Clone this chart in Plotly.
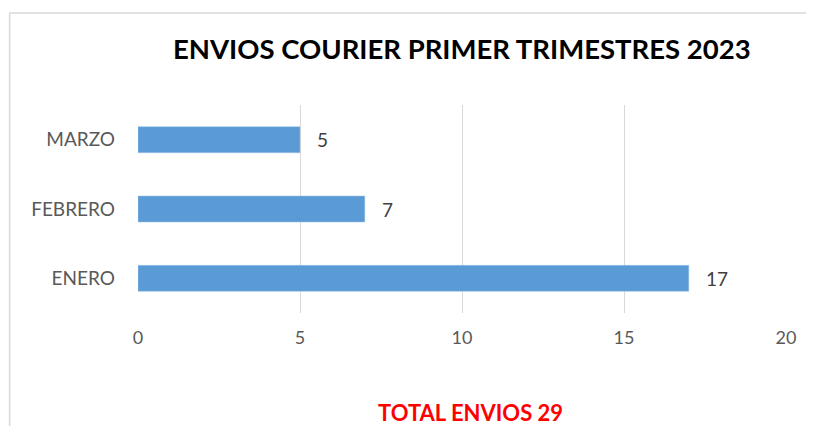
import plotly.graph_objects as go

categories = ["ENERO", "FEBRERO", "MARZO"]
envios = [17, 7, 5]
x_ticks = [0, 5, 10, 15, 20]
title_text = "ENVIOS COURIER PRIMER TRIMESTRES 2023"
total_text = "TOTAL ENVIOS " + str(sum(envios))

FONT = "Lato"
# page is drawn with an 8px body margin, so the figure is 8px smaller and positions are page coords minus 8
W, H = 806, 418
L, R, T, B = 129.5, 28, 97, 113
pw, ph = W - L - R, H - T - B


def px(x):
    return (x - L) / pw


def py(y):
    return (H - y - B) / ph


fig = go.Figure()
fig.add_trace(go.Bar(
    x=envios, y=categories, orientation="h",
    marker=dict(color="#5b9bd5", line=dict(color="#9dc3e6", width=0.5)),
    width=0.375, hoverinfo="skip",
))

annotations = [
    dict(x=v, y=c, xref="x", yref="y", text=str(v), showarrow=False,
         xanchor="left", xshift=15, font=dict(family=FONT, size=19, color="#404040"))
    for c, v in zip(categories, envios)
]
annotations.append(dict(x=px(454), y=py(40), xref="paper", yref="paper", text="<b>" + title_text + "</b>",
                        showarrow=False, xanchor="center", yanchor="middle",
                        font=dict(family=FONT, size=27.5, color="#000000")))
annotations.append(dict(x=px(462), y=py(404), xref="paper", yref="paper", text="<b>" + total_text + "</b>",
                        showarrow=False, xanchor="center", yanchor="middle",
                        font=dict(family=FONT, size=22, color="#ff0000")))

fig.update_layout(
    width=W, height=H,
    margin=dict(l=L, r=R, t=T, b=B, autoexpand=False),
    paper_bgcolor="white", plot_bgcolor="white",
    showlegend=False,
    annotations=annotations,
    xaxis=dict(range=[0, 20], tickvals=x_ticks, showgrid=True, gridcolor="#d9d9d9", gridwidth=1,
               zeroline=False, showline=False, ticks="", ticklabelstandoff=12,
               tickfont=dict(family=FONT, size=18, color="#595959")),
    yaxis=dict(showgrid=False, zeroline=False, showline=False, ticks="", ticklabelstandoff=22,
               tickfont=dict(family=FONT, size=19, color="#595959")),
    shapes=[dict(type="rect", xref="paper", yref="paper",
                 x0=px(1), x1=px(830), y0=py(440), y1=py(5),
                 line=dict(color="#d9d9d9", width=1.5), fillcolor="rgba(0,0,0,0)", layer="below")],
)

fig.write_html("out.html")
